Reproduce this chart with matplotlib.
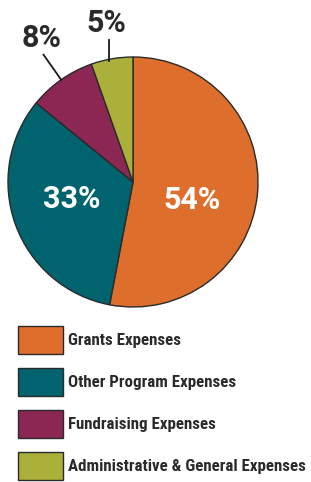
import numpy as np
import matplotlib.pyplot as plt

categories = ["Grants Expenses", "Other Program Expenses",
              "Fundraising Expenses", "Administrative & General Expenses"]
# wedge sizes as drawn, and the printed labels
shares = [53.0, 32.9, 8.7, 5.4]
labels = ["54%", "33%", "8%", "5%"]
colors = ["#DD6E2C", "#00636E", "#8B2752", "#AAB03A"]

W, H = 311, 482
fig = plt.figure(figsize=(W / 100, H / 100), dpi=100)
plt.rcParams['font.family'] = ['Roboto', 'DejaVu Sans']
cond = ["Roboto Condensed", "Roboto", "DejaVu Sans"]

# pie axes: centre (133, 182), radius 125 px
cx, cy, r = 133, 182, 125
ax = fig.add_axes([(cx - r) / W, (H - cy - r) / H, 2 * r / W, 2 * r / H])
wedges, _ = ax.pie(shares, colors=colors, startangle=90, counterclock=False,
                   wedgeprops=dict(edgecolor="#2a2a2a", linewidth=1.0))
ax.set_xlim(-1, 1)
ax.set_ylim(-1, 1)
ax.set_aspect("equal")
ax.axis("off")

# label placement (centre x, baseline y) in pie radii
label_xy = [(0.476, -0.214), (-0.488, -0.212), (-0.732, 1.08), (-0.216, 1.20)]
for i, (w, lab) in enumerate(zip(wedges, labels)):
    mid = np.deg2rad((w.theta1 + w.theta2) / 2)
    tx, ty = label_xy[i]
    inside = i < 2
    ax.text(tx, ty, lab, color="white" if inside else "#2a2a2a",
            fontsize=22, fontweight="bold", ha="center", va="baseline")
    if i == 2:
        x0, y0 = np.cos(mid), np.sin(mid)
        ax.plot([x0, 1.245 * x0], [y0, 1.245 * y0], color="#1a1a1a", lw=1.3,
                clip_on=False)
    elif i == 3:
        x0 = np.cos(mid) - 0.024
        y0 = np.sqrt(1 - x0 ** 2)
        ax.plot([x0, x0], [y0 - 0.01, 1.135], color="#1a1a1a", lw=1.3,
                clip_on=False)

fs = 12.2
fpx = fs * 100 / 72
fig.legend(wedges, categories, loc="upper left",
           bbox_to_anchor=(18 / W, 1 - 326 / H), frameon=False,
           prop=dict(family=cond, weight="bold", size=fs),
           handlelength=45 / fpx, handleheight=29 / (fpx * 0.79),
           handletextpad=0.3, labelspacing=14 / fpx, borderpad=0,
           borderaxespad=0, labelcolor="#2a2a2a")

fig.savefig("out.png", dpi=100)
